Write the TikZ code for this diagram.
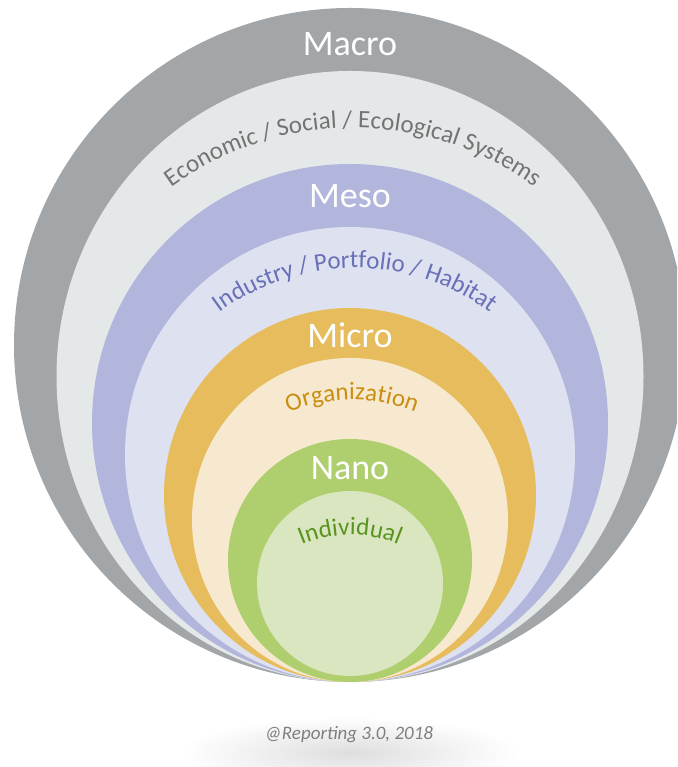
\documentclass[tikz,border=0pt]{standalone}
\usepackage{fontspec}
\setmainfont{Carlito}
\usetikzlibrary{decorations.text}

% ring colours, outside in
\definecolor{macrogray}{HTML}{A3A6A9}
\definecolor{econgray}{HTML}{E5E8E9}
\definecolor{mesoblue}{HTML}{B3B6DC}
\definecolor{induslight}{HTML}{DEE1F0}
\definecolor{microgold}{HTML}{E6BC5C}
\definecolor{orgcream}{HTML}{F6E9CF}
\definecolor{nanogreen}{HTML}{AFCF6E}
\definecolor{indivlight}{HTML}{D9E6C0}
% label colours
\definecolor{econtext}{HTML}{737373}
\definecolor{industext}{HTML}{6870B8}
\definecolor{orgtext}{HTML}{C98E12}
\definecolor{indivtext}{HTML}{5A9420}
\definecolor{notetext}{HTML}{7F7F7F}

\tikzset{
    ringtitle/.style={font=\fontsize{36}{40}\selectfont, text=white, anchor=base, inner sep=0pt},
    footnote/.style={font=\fontsize{19}{22}\selectfont\itshape, text=notetext, anchor=base, inner sep=0pt}
}

% curved label: colour, centre x, centre y, radius, text
\newcommand{\arclabel}[5]{%
    \path[decorate, decoration={text along path, text align=center,
        text={|\fontsize{25}{30}\selectfont\color{#1}|#5}}]
        (#2,#3) ++(150:#4) arc[start angle=150, end angle=30, radius=#4];
}

\begin{document}
\begin{tikzpicture}[x=1pt, y=1pt]
    \path[use as bounding box] (0,0) rectangle (677,767);
    \clip (0,0) rectangle (677,767);

    % soft shadow under the note
    \shade[inner color=black!13, outer color=white] (350,14) ellipse [x radius=170, y radius=36];
    \node[footnote] (note) at (349,27) {@Reporting 3.0, 2018};

    % nested rings, all resting on the same bottom point
    \foreach \col/\rx/\ry/\cy in {macrogray/336/337/422, econgray/293.5/305.5/390.5,
            mesoblue/258/259/344, induslight/225/227.5/312.5, microgold/186/187/272,
            orgcream/158/162/247, nanogreen/122/121.5/206.5, indivlight/93/92.5/183.5}
        \fill[\col] (350,\cy) ellipse [x radius=\rx, y radius=\ry];

    \node[ringtitle] (macro) at (350,711) {Macro};
    \node[ringtitle] (meso) at (350,559) {Meso};
    \node[ringtitle] (micro) at (350,419) {Micro};
    \node[ringtitle] (nano) at (350,287) {Nano};

    \arclabel{econtext}{353}{331}{308}{Economic / Social / Ecological Systems}
    \arclabel{industext}{355}{272}{227}{Industry / Portfolio / Habitat}
    \arclabel{orgtext}{352}{198}{169}{Organization}
    \arclabel{indivtext}{350}{107}{125}{Individual}
\end{tikzpicture}
\end{document}
